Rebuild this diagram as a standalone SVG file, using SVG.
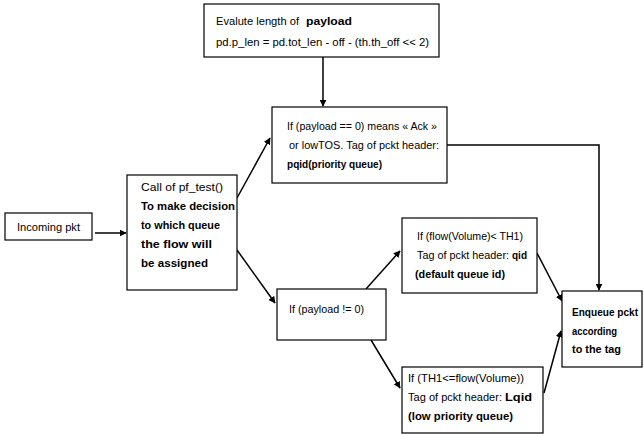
<svg xmlns="http://www.w3.org/2000/svg" width="644" height="434" viewBox="0 0 644 434">
<defs>
<style>
.box{fill:#fff;stroke:#000;stroke-width:1.2}
text{font-family:"Liberation Sans",Arial,sans-serif;font-size:11.5px;fill:#000}
.b{font-weight:bold;font-size:11px}
.s{font-size:11px}
.e{font-weight:bold;font-size:10.5px}
.c{fill:none;stroke:#000;stroke-width:1.5}
</style>
<marker id="ah" viewBox="0 0 10 10" refX="9" refY="5" markerWidth="7" markerHeight="7" markerUnits="userSpaceOnUse" orient="auto">
<path d="M0,0 L10,5 L0,10 z" fill="#000"/>
</marker>
</defs>
<rect width="644" height="434" fill="#fff"/>
<g id="connectors">
<line class="c" x1="323" y1="57" x2="323" y2="106" marker-end="url(#ah)"/>
<line class="c" x1="95" y1="233" x2="126" y2="233" marker-end="url(#ah)"/>
<line class="c" x1="237" y1="198" x2="270" y2="138" marker-end="url(#ah)"/>
<line class="c" x1="237" y1="250" x2="275" y2="303" marker-end="url(#ah)"/>
<line class="c" x1="366" y1="289" x2="400" y2="251" marker-end="url(#ah)"/>
<line class="c" x1="371" y1="340" x2="400" y2="388" marker-end="url(#ah)"/>
<line class="c" x1="537" y1="253" x2="562" y2="301" marker-end="url(#ah)"/>
<line class="c" x1="544" y1="393" x2="561" y2="331" marker-end="url(#ah)"/>
<polyline class="c" points="447,145 599,145 599,290" marker-end="url(#ah)"/>
</g>
<g id="n_eval">
<rect class="box" x="204" y="4" width="235" height="53"/>
<text x="216" y="25" textLength="83" lengthAdjust="spacingAndGlyphs">Evalute length of</text>
<text class="b" x="306" y="25" textLength="46" lengthAdjust="spacingAndGlyphs">payload</text>
<text x="216" y="46" textLength="213" lengthAdjust="spacingAndGlyphs">pd.p_len = pd.tot_len - off - (th.th_off &lt;&lt; 2)</text>
</g>
<g id="n_ack">
<rect class="box" x="272" y="107" width="175" height="76"/>
<text x="287" y="130" textLength="150" lengthAdjust="spacingAndGlyphs">If (payload == 0) means « Ack »</text>
<text x="289" y="149" textLength="150" lengthAdjust="spacingAndGlyphs">or lowTOS. Tag of pckt header:</text>
<text class="b" x="287" y="168" textLength="95" lengthAdjust="spacingAndGlyphs">pqid(priority queue)</text>
</g>
<g id="n_incoming">
<rect class="box" x="5" y="213" width="87" height="27"/>
<text x="17" y="231" textLength="63" lengthAdjust="spacingAndGlyphs">Incoming pkt</text>
</g>
<g id="n_pftest">
<rect class="box" x="127" y="175" width="110" height="115"/>
<text x="141" y="191" textLength="82" lengthAdjust="spacingAndGlyphs">Call of pf_test()</text>
<text class="b" x="141" y="210" textLength="94" lengthAdjust="spacingAndGlyphs">To make decision</text>
<text class="b" x="141" y="229" textLength="79" lengthAdjust="spacingAndGlyphs">to which queue</text>
<text class="b" x="141" y="248" textLength="71" lengthAdjust="spacingAndGlyphs">the flow will</text>
<text class="b" x="141" y="267" textLength="67" lengthAdjust="spacingAndGlyphs">be assigned</text>
</g>
<g id="n_payload">
<rect class="box" x="277" y="289" width="109" height="51"/>
<text x="289" y="313" textLength="75" lengthAdjust="spacingAndGlyphs">If (payload != 0)</text>
</g>
<g id="n_qid">
<rect class="box" x="402" y="218" width="135" height="75"/>
<text x="417" y="240" textLength="106" lengthAdjust="spacingAndGlyphs">If (flow(Volume)&lt; TH1)</text>
<text class="s" x="417" y="259" textLength="92" lengthAdjust="spacingAndGlyphs">Tag of pckt header:</text>
<text class="b" x="512" y="259" textLength="15" lengthAdjust="spacingAndGlyphs">qid</text>
<text class="b" x="415" y="278" textLength="90" lengthAdjust="spacingAndGlyphs">(default queue id)</text>
</g>
<g id="n_lqid">
<rect class="box" x="402" y="367" width="141" height="66"/>
<text x="408" y="382" textLength="116" lengthAdjust="spacingAndGlyphs">If (TH1&lt;=flow(Volume))</text>
<text class="s" x="408" y="401" textLength="94" lengthAdjust="spacingAndGlyphs">Tag of pckt header:</text>
<text class="b" x="505" y="401" textLength="27" lengthAdjust="spacingAndGlyphs">Lqid</text>
<text class="b" x="408" y="420" textLength="105" lengthAdjust="spacingAndGlyphs">(low priority queue)</text>
</g>
<g id="n_enqueue">
<rect class="box" x="562" y="291" width="80" height="76"/>
<text class="e" x="572" y="316" textLength="66" lengthAdjust="spacingAndGlyphs">Enqueue pckt</text>
<text class="e" x="572" y="335" textLength="45" lengthAdjust="spacingAndGlyphs">according</text>
<text class="e" x="572" y="353" textLength="49" lengthAdjust="spacingAndGlyphs">to the tag</text>
</g>
</svg>
